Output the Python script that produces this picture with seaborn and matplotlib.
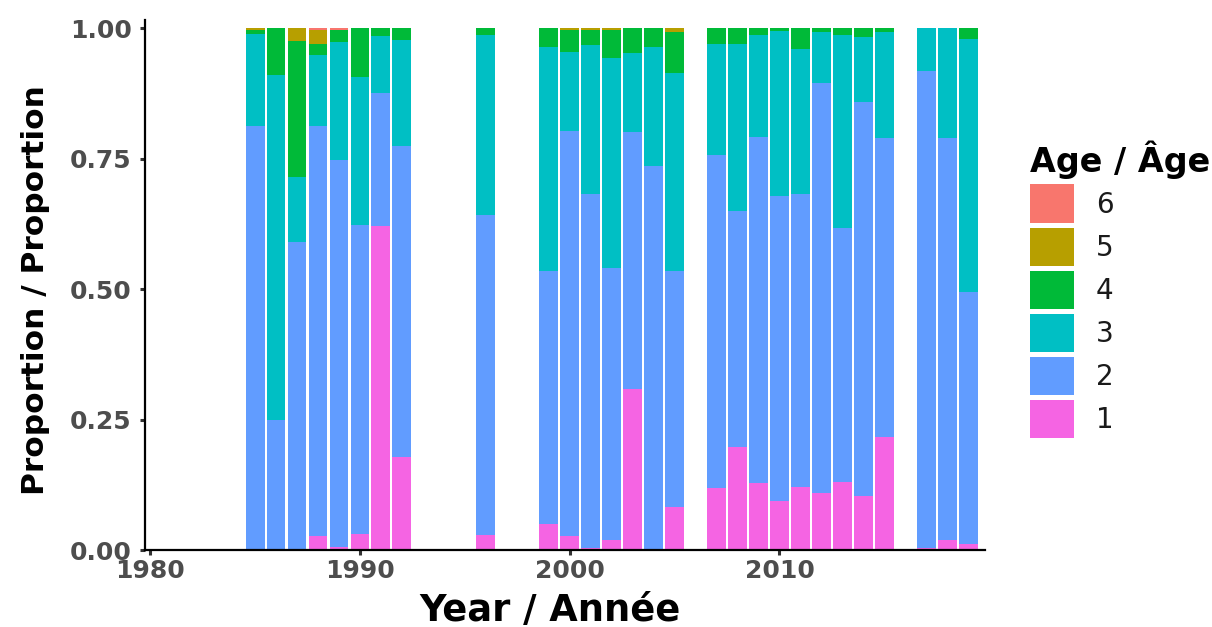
import numpy as np
import pandas as pd
import matplotlib
matplotlib.use("Agg")
import matplotlib.pyplot as plt
from matplotlib.patches import Patch
import seaborn as sns

# Sampled years
years = [1985, 1986, 1987, 1988, 1989, 1990, 1991, 1992, 1996,
         1999, 2000, 2001, 2002, 2003, 2004, 2005,
         2007, 2008, 2009, 2010, 2011, 2012, 2013, 2014, 2015,
         2017, 2018, 2019]

# Proportion at age, one list per age class (same order as years)
age1 = [0.000, 0.000, 0.000, 0.027, 0.006, 0.031, 0.621, 0.178, 0.029,
        0.049, 0.027, 0.003, 0.020, 0.308, 0.000, 0.082,
        0.118, 0.198, 0.129, 0.093, 0.121, 0.110, 0.131, 0.103, 0.216,
        0.004, 0.020, 0.011]
age2 = [0.812, 0.249, 0.591, 0.785, 0.741, 0.592, 0.255, 0.596, 0.613,
        0.486, 0.776, 0.680, 0.520, 0.493, 0.736, 0.453,
        0.639, 0.452, 0.662, 0.586, 0.562, 0.785, 0.486, 0.756, 0.573,
        0.914, 0.769, 0.484]
age3 = [0.177, 0.661, 0.123, 0.136, 0.227, 0.283, 0.109, 0.204, 0.345,
        0.428, 0.152, 0.284, 0.402, 0.152, 0.227, 0.379,
        0.212, 0.319, 0.196, 0.316, 0.276, 0.097, 0.370, 0.123, 0.203,
        0.082, 0.211, 0.484]
age4 = [0.007, 0.090, 0.262, 0.021, 0.023, 0.094, 0.015, 0.022, 0.013,
        0.037, 0.041, 0.030, 0.054, 0.047, 0.037, 0.078,
        0.031, 0.031, 0.013, 0.005, 0.041, 0.008, 0.013, 0.018, 0.008,
        0.000, 0.000, 0.021]
age5 = [0.004, 0.000, 0.024, 0.028, 0.000, 0.000, 0.000, 0.000, 0.000,
        0.000, 0.004, 0.003, 0.004, 0.000, 0.000, 0.008,
        0.000, 0.000, 0.000, 0.000, 0.000, 0.000, 0.000, 0.000, 0.000,
        0.000, 0.000, 0.000]
age6 = [0.000, 0.000, 0.000, 0.003, 0.003, 0.000, 0.000, 0.000, 0.000,
        0.000, 0.000, 0.000, 0.000, 0.000, 0.000, 0.000,
        0.000, 0.000, 0.000, 0.000, 0.000, 0.000, 0.000, 0.000, 0.000,
        0.000, 0.000, 0.000]

ages = ["1", "2", "3", "4", "5", "6"]
colors = ["#F564E3", "#619CFF", "#00BFC4", "#00BA38", "#B79F00", "#F8766D"]

x_ticks = [1980, 1990, 2000, 2010]
y_ticks = [0.00, 0.25, 0.50, 0.75, 1.00]

# Long table: one row per year and age class
series = [age1, age2, age3, age4, age5, age6]
df = pd.concat(
    [pd.DataFrame({"year": years, "age": a, "prop": vals})
     for a, vals in zip(ages, series)],
    ignore_index=True,
)
palette = dict(zip(ages, colors))

sns.set_theme(style="ticks")
plt.rcParams["font.family"] = ["DejaVu Sans"]

fig = plt.figure(figsize=(12.12, 6.27), dpi=100)
ax = fig.add_axes([0.1196, 0.1228, 0.6931, 0.8452])

sns.histplot(
    data=df, x="year", weights="prop", hue="age",
    hue_order=ages[::-1], palette=palette,
    multiple="stack", discrete=True, shrink=0.9,
    linewidth=0, alpha=1, legend=False, ax=ax,
)

ax.set_xlim(1979.75, 2019.8)
ax.set_ylim(0, 1.0153)
ax.set_xticks(x_ticks)
ax.set_xticklabels([str(t) for t in x_ticks])
ax.set_yticks(y_ticks)
ax.set_yticklabels([f"{t:.2f}" for t in y_ticks])

sns.despine(ax=ax)
for side in ("left", "bottom"):
    ax.spines[side].set_color("black")
    ax.spines[side].set_linewidth(1.6)

ax.tick_params(axis="both", which="major", length=3.5, width=2.2,
               color="#333333", labelsize=18, labelcolor="#4D4D4D")
ax.tick_params(axis="y", pad=6)
ax.tick_params(axis="x", pad=3)
for lab in ax.get_xticklabels() + ax.get_yticklabels():
    lab.set_fontweight("bold")

ax.set_xlabel("Year / Année", fontsize=26.5, fontweight="bold", color="black")
ax.set_ylabel("Proportion / Proportion", fontsize=22.5, fontweight="bold",
              color="black")
ax.xaxis.set_label_coords(0.482, -0.079)
ax.yaxis.set_label_coords(-0.113, 0.49)

handles = [Patch(facecolor=c, edgecolor="none") for c in colors[::-1]]
leg = fig.legend(
    handles, ages[::-1], title="Age / Âge",
    loc="upper left", bbox_to_anchor=(1030 / 1212, 1 - 141 / 627),
    frameon=False, fontsize=20, handlelength=1.58, handleheight=1.73,
    labelspacing=0.18, handletextpad=0.8, borderpad=0, borderaxespad=0,
    alignment="left",
)
leg.get_title().set_fontsize(24)
leg.get_title().set_fontweight("bold")
leg.get_title().set_color("black")
for txt in leg.get_texts():
    txt.set_color("#1A1A1A")

fig.savefig("out.png", dpi=100)
